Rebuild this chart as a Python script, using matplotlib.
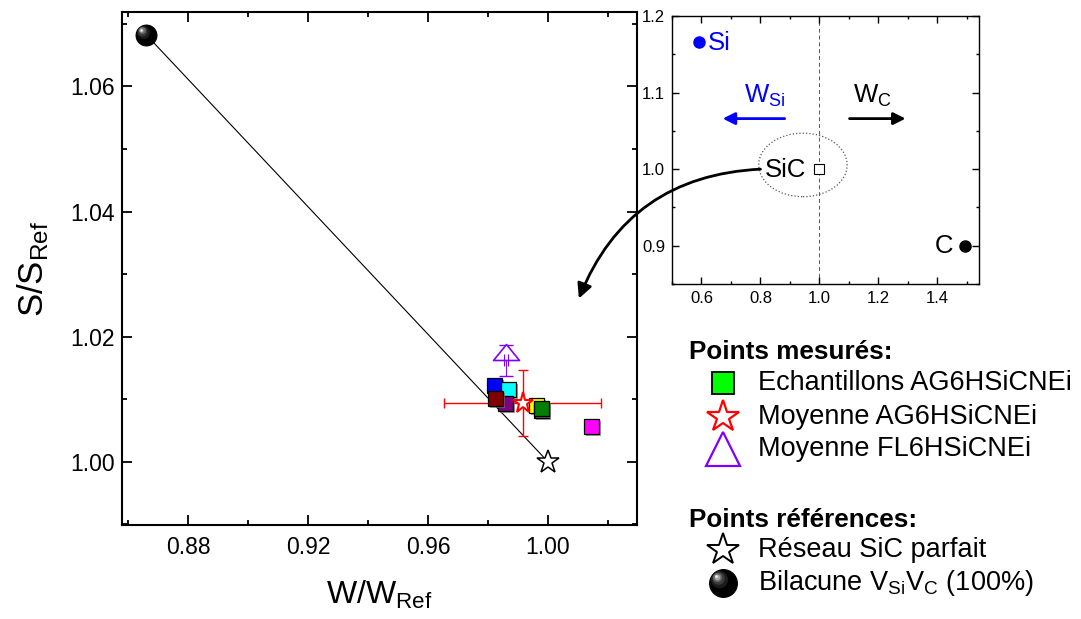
import matplotlib
matplotlib.use('Agg')
import matplotlib.pyplot as plt
import matplotlib.patheffects as pe
from matplotlib.patches import Ellipse, ConnectionPatch
from matplotlib.path import Path
from matplotlib.transforms import ScaledTranslation
from matplotlib.ticker import MultipleLocator, FormatStrFormatter

plt.rcParams['font.family'] = ['Liberation Sans', 'DejaVu Sans']
plt.rcParams['mathtext.fontset'] = 'custom'
plt.rcParams['mathtext.rm'] = 'Liberation Sans'
plt.rcParams['mathtext.it'] = 'Liberation Sans:italic'
plt.rcParams['mathtext.bf'] = 'Liberation Sans:bold'

# ---------------- data ----------------
# measured samples (AG6HSiCNEi)
sample_w = [0.9822, 0.9868, 0.9859, 0.9826, 0.9962, 0.9979, 0.9979, 1.0146]
sample_s = [1.0122, 1.0116, 1.0093, 1.0102, 1.0090, 1.0082, 1.0085, 1.0057]
sample_colors = ['#0000ff', '#00ffff', '#800080', '#800000',
                 '#ffff00', '#000080', '#008000', '#ff00ff']

# mean AG6HSiCNEi
mean_ag_w, mean_ag_s = 0.9916, 1.0094
mean_ag_werr, mean_ag_serr = 0.0262, 0.0052
# mean FL6HSiCNEi
mean_fl_w, mean_fl_s = 0.9860, 1.0162
mean_fl_werr, mean_fl_serr = 0.0006, 0.0025

# reference points: perfect SiC lattice, divacancy VSiVC (100%)
ref_w = [1.0, 0.8659]
ref_s = [1.0, 1.0683]

# inset: Si, C and SiC positions
inset_si = (0.59, 1.166)
inset_c = (1.494, 0.90)
inset_sic = (1.0, 1.0)

# ---------------- figure ----------------
fig = plt.figure(figsize=(10.81, 6.19), dpi=100)
W, H = 1081, 619

ax = fig.add_axes([122 / W, 1 - 525 / H, 515 / W, 513 / H])
ax.set_xlim(0.8579, 1.0297)
ax.set_ylim(0.9899, 1.0719)
ax.xaxis.set_major_locator(MultipleLocator(0.04))
ax.xaxis.set_minor_locator(MultipleLocator(0.02))
ax.yaxis.set_major_locator(MultipleLocator(0.02))
ax.yaxis.set_minor_locator(MultipleLocator(0.01))
ax.xaxis.set_major_formatter(FormatStrFormatter('%.2f'))
ax.yaxis.set_major_formatter(FormatStrFormatter('%.2f'))
ax.tick_params(which='both', direction='in', top=True, right=True, width=1.3)
ax.tick_params(which='major', length=7, labelsize=16.5)
ax.tick_params(axis='x', which='major', pad=8)
ax.tick_params(axis='y', which='major', pad=5)
ax.tick_params(which='minor', length=3.5)
for sp in ax.spines.values():
    sp.set_linewidth(1.5)
ax.set_xlabel('W/W$_{\\mathrm{Ref}}$', fontsize=23, labelpad=14)
ax.set_ylabel('S/S$_{\\mathrm{Ref}}$', fontsize=25, labelpad=14)


def sphere(axis, x, y, size, z=10):
    axis.plot([x], [y], 'o', ms=size, mfc='black', mec='black', mew=0.8,
              zorder=z, clip_on=False)
    layers = [(0.62, '#1c1c1c', 0.13), (0.45, '#3c3c3c', 0.18),
              (0.32, '#6c6c6c', 0.21), (0.2, '#a8a8a8', 0.23),
              (0.1, '#f0f0f0', 0.24)]
    for frac, col, off in layers:
        tr = axis.transData + ScaledTranslation(-off * size / 72, off * size / 72,
                                                fig.dpi_scale_trans)
        axis.plot([x], [y], 'o', ms=size * frac, mfc=col, mec='none',
                  transform=tr, zorder=z + 0.1, clip_on=False)


# line joining the two reference points
ax.plot(ref_w, ref_s, '-', color='black', lw=0.8, zorder=2)

# error bars of AG mean (behind squares)
ax.errorbar([mean_ag_w], [mean_ag_s], xerr=[mean_ag_werr], yerr=[mean_ag_serr],
            fmt='none', ecolor='red', elinewidth=1.0, capsize=3.5, capthick=1.0,
            zorder=3)

# FL mean triangle (marker sits on its point, flat triangle)
tri = Path([(0, 1.23), (-1, 0), (1, 0), (0, 1.23)],
           [Path.MOVETO, Path.LINETO, Path.LINETO, Path.CLOSEPOLY])
ax.errorbar([mean_fl_w], [mean_fl_s], yerr=[mean_fl_serr], fmt='none',
            ecolor='#8000ff', elinewidth=0.7, capsize=5, capthick=1.0, zorder=3)
ax.plot([mean_fl_w], [mean_fl_s], marker=tri, ms=23, mfc='white',
        mec='#8000ff', mew=1.2, ls='none', zorder=4)
ax.errorbar([mean_fl_w], [mean_fl_s], xerr=[mean_fl_werr], fmt='none',
            ecolor='#8000ff', elinewidth=0.7, capsize=4, capthick=0.8, zorder=4.5)

# samples
shadow = [pe.SimplePatchShadow(offset=(1.5, -1.5), shadow_rgbFace='#777777',
                               alpha=0.7), pe.Normal()]
for i, (w, s, c) in enumerate(zip(sample_w, sample_s, sample_colors)):
    ax.plot([w], [s], 's', ms=10.8, mfc=c, mec='black', mew=0.9,
            zorder=5 + i * 0.01, path_effects=shadow)

# AG mean star
ax.plot([mean_ag_w], [mean_ag_s], '*', ms=15.5, mfc='white', mec='red',
        mew=1.5, zorder=7)

# perfect SiC lattice star
ax.plot([ref_w[0]], [ref_s[0]], '*', ms=17, mfc='white', mec='black',
        mew=1.1, zorder=7)
# divacancy sphere
sphere(ax, ref_w[1], ref_s[1], 15)

# ---------------- inset ----------------
axin = fig.add_axes([672 / W, 1 - 284 / H, 307 / W, 268 / H])
axin.set_xlim(0.5, 1.541)
axin.set_ylim(0.85, 1.2)
axin.xaxis.set_major_locator(MultipleLocator(0.2))
axin.xaxis.set_minor_locator(MultipleLocator(0.1))
axin.yaxis.set_major_locator(MultipleLocator(0.1))
axin.yaxis.set_minor_locator(MultipleLocator(0.05))
axin.xaxis.set_major_formatter(FormatStrFormatter('%.1f'))
axin.yaxis.set_major_formatter(FormatStrFormatter('%.1f'))
axin.tick_params(which='both', direction='in', top=True, right=True, width=1.0)
axin.tick_params(which='major', length=5, labelsize=12, pad=5)
axin.tick_params(which='minor', length=2.5)
for sp in axin.spines.values():
    sp.set_linewidth(1.0)

axin.axvline(inset_sic[0], ls=(0, (4, 3)), lw=0.7, color='#555555', zorder=1)
axin.add_patch(Ellipse((0.944, 1.0055), 0.30, 0.083, fill=False, ls=':',
                       lw=0.9, ec='#555555', zorder=2))
axin.plot([inset_sic[0]], [inset_sic[1]], 's', ms=7, mfc='white', mec='black',
          mew=0.8, zorder=3)
axin.text(0.816, 0.999, 'SiC', fontsize=18.5, ha='left', va='center', zorder=4)
axin.plot([inset_si[0]], [inset_si[1]], 'o', ms=8, color='#0000ff', zorder=3)
axin.text(0.622, 1.165, 'Si', fontsize=18.5, color='#0000ff', ha='left',
          va='center')
axin.plot([inset_c[0]], [inset_c[1]], 'o', ms=8, color='black', zorder=3)
axin.text(1.452, 0.899, 'C', fontsize=18.5, color='black', ha='right',
          va='center')

axin.annotate('', xy=(0.672, 1.066), xytext=(0.882, 1.066),
              arrowprops=dict(arrowstyle='-|>', color='#0000ff', lw=2,
                              mutation_scale=18, shrinkA=0, shrinkB=0))
axin.annotate('', xy=(1.292, 1.066), xytext=(1.102, 1.066),
              arrowprops=dict(arrowstyle='-|>', color='black', lw=2,
                              mutation_scale=18, shrinkA=0, shrinkB=0))
axin.text(0.743, 1.096, 'W$_{\\mathrm{Si}}$', fontsize=18.5, color='#0000ff',
          ha='left', va='center')
axin.text(1.115, 1.096, 'W$_{\\mathrm{C}}$', fontsize=18.5, color='black',
          ha='left', va='center')

# curved arrow from the inset SiC to the main plot
con = ConnectionPatch(xyA=(0.80, 1.0), coordsA=axin.transData,
                      xyB=(1.0103, 1.0261), coordsB=ax.transData,
                      arrowstyle='-|>', connectionstyle='arc3,rad=0.32',
                      lw=2, mutation_scale=22, color='black',
                      shrinkA=0, shrinkB=0, zorder=20)
fig.add_artist(con)

# ---------------- legend ----------------
lax = fig.add_axes([0, 0, 1, 1], zorder=-1)
lax.set_xlim(0, W)
lax.set_ylim(H, 0)
lax.axis('off')
lax.patch.set_alpha(0)

lx_mark, lx_text = 723, 758
lax.text(689, 352, 'Points mesurés:', fontsize=18.8, fontweight='bold',
         va='center', ha='left')
lax.plot([lx_mark], [383], 's', ms=15.5, mfc='#00ff00', mec='black', mew=1.3)
lax.text(lx_text, 383, 'Echantillons AG6HSiCNEi', fontsize=19.5, va='center')
lax.plot([lx_mark], [417], '*', ms=24, mfc='white', mec='red', mew=1.6)
lax.text(lx_text, 417, 'Moyenne AG6HSiCNEi', fontsize=19.5, va='center')
lax.plot([lx_mark], [449], '^', ms=24, mfc='white', mec='#8000ff', mew=1.6)
lax.text(lx_text, 449, 'Moyenne FL6HSiCNEi', fontsize=19.5, va='center')

lax.text(689, 520, 'Points références:', fontsize=18.8, fontweight='bold',
         va='center', ha='left')
lax.plot([lx_mark], [550], '*', ms=24, mfc='white', mec='black', mew=1.4)
lax.text(lx_text, 550, 'Réseau SiC parfait', fontsize=19.5, va='center')
sphere(lax, lx_mark, 583, 20)
lax.text(lx_text, 583, 'Bilacune V$_{\\mathrm{Si}}$V$_{\\mathrm{C}}$ (100%)',
         fontsize=19.5, va='center')

fig.savefig('out.png', dpi=100)
